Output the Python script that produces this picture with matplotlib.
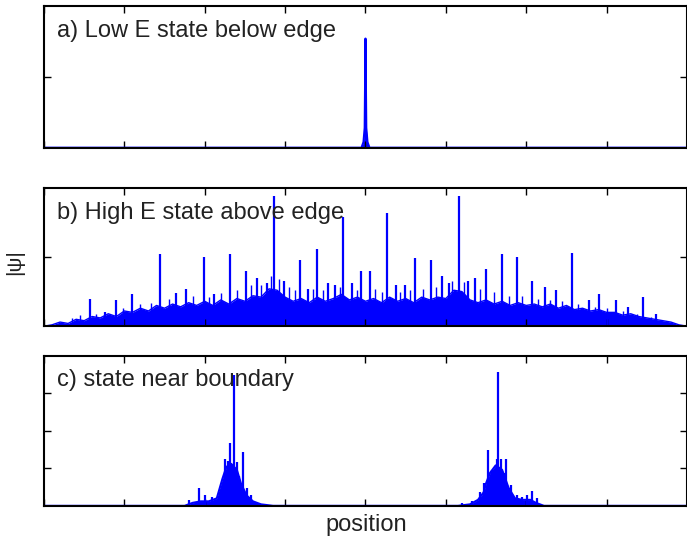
import matplotlib
matplotlib.use("Agg")
import matplotlib.pyplot as plt
import numpy as np

plt.rcParams['font.family'] = ['Liberation Sans', 'DejaVu Sans']

# x axis runs over 8 tick intervals, y over 0..1
n_div = 8

# a) one narrow peak in the middle
a_x = [0.0, 3.95, 3.975, 3.99, 4.0, 4.01, 4.025, 4.05, 8.0]
a_y = [0.0, 0.0, 0.04, 0.14, 0.77, 0.14, 0.04, 0.0, 0.0]

# b) dense background (upper edge) plus the sharp spikes
b_bg_x = list(np.round(np.arange(0, 8.01, 0.1), 2))
b_bg_y = [0.0, 0.01, 0.03, 0.02, 0.05, 0.04, 0.07, 0.06, 0.09, 0.07,
          0.11, 0.10, 0.13, 0.11, 0.15, 0.13, 0.16, 0.14, 0.17, 0.15,
          0.18, 0.15, 0.19, 0.16, 0.20, 0.18, 0.22, 0.21, 0.27, 0.26,
          0.21, 0.18, 0.20, 0.17, 0.21, 0.18, 0.20, 0.23, 0.19, 0.21,
          0.18, 0.20, 0.17, 0.21, 0.18, 0.20, 0.17, 0.21, 0.19, 0.21,
          0.20, 0.26, 0.25, 0.19, 0.17, 0.19, 0.16, 0.18, 0.15, 0.17,
          0.15, 0.16, 0.14, 0.16, 0.13, 0.15, 0.12, 0.13, 0.11, 0.12,
          0.10, 0.10, 0.08, 0.09, 0.07, 0.06, 0.05, 0.04, 0.03, 0.01,
          0.0]
b_spike_x = [0.568, 0.760, 0.896, 1.097, 1.440, 1.642, 1.767, 1.985, 2.121,
             2.311, 2.513, 2.649, 2.774, 2.856, 2.981, 3.182, 3.291, 3.400,
             3.536, 3.618, 3.726, 3.835, 3.944, 4.053, 4.271, 4.380, 4.489,
             4.614, 4.815, 4.952, 5.033, 5.158, 5.278, 5.360, 5.496, 5.697,
             5.888, 6.068, 6.231, 6.367, 6.574, 6.775, 6.911, 7.118, 7.265,
             7.456, 7.619]
b_spike_y = [0.20, 0.10, 0.19, 0.23, 0.52, 0.24, 0.27, 0.50, 0.23,
             0.52, 0.40, 0.35, 0.31, 0.94, 0.33, 0.48, 0.27, 0.56,
             0.31, 0.30, 0.79, 0.31, 0.40, 0.40, 0.82, 0.30, 0.30,
             0.49, 0.48, 0.36, 0.31, 0.94, 0.33, 0.35, 0.41, 0.52,
             0.50, 0.33, 0.28, 0.26, 0.53, 0.19, 0.23, 0.19, 0.14,
             0.21, 0.09]
# smaller ragged lines sitting on the background
b_small_x = [0.35, 0.45, 0.65, 0.98, 1.20, 1.33, 1.55, 1.85, 2.05, 2.20,
             2.40, 2.58, 2.70, 2.82, 2.92, 3.05, 3.12, 3.35, 3.47, 3.68,
             3.90, 4.12, 4.20, 4.43, 4.55, 4.72, 4.88, 5.08, 5.22, 5.42,
             5.60, 5.78, 5.95, 6.15, 6.30, 6.45, 6.65, 6.85, 7.00, 7.20,
             7.38, 7.55, 7.75]
b_small_y = [0.06, 0.08, 0.09, 0.13, 0.16, 0.17, 0.20, 0.22, 0.21, 0.24,
             0.26, 0.30, 0.30, 0.36, 0.34, 0.28, 0.26, 0.27, 0.26, 0.28,
             0.26, 0.27, 0.25, 0.25, 0.26, 0.27, 0.28, 0.33, 0.32, 0.27,
             0.25, 0.22, 0.22, 0.20, 0.19, 0.18, 0.16, 0.14, 0.13, 0.11,
             0.09, 0.07, 0.04]

# c) two localized clusters
c_bg_x = [0.0, 1.75, 1.85, 1.95, 2.05, 2.15, 2.22, 2.27, 2.33, 2.40, 2.45,
          2.52, 2.60, 2.70, 2.85, 5.15, 5.30, 5.40, 5.47, 5.50, 5.55, 5.62,
          5.70, 5.78, 5.86, 5.95, 6.05, 6.12, 6.22, 8.0]
c_bg_y = [0.0, 0.0, 0.02, 0.03, 0.03, 0.05, 0.18, 0.26, 0.28, 0.24, 0.15,
          0.07, 0.03, 0.01, 0.0, 0.0, 0.01, 0.04, 0.09, 0.15, 0.22, 0.27,
          0.24, 0.12, 0.05, 0.04, 0.04, 0.02, 0.0, 0.0]
c_spike_x = [1.81, 1.93, 2.00, 2.09, 2.19, 2.25, 2.29, 2.32, 2.36, 2.40, 2.43,
             2.47, 2.52, 2.58, 5.20, 5.32, 5.42, 5.48, 5.53, 5.58, 5.63, 5.65,
             5.69, 5.73, 5.75, 5.81, 5.88, 5.95, 6.01, 6.07, 6.14]
c_spike_y = [0.04, 0.12, 0.07, 0.06, 0.09, 0.31, 0.30, 0.42, 0.87, 0.29, 0.20,
             0.36, 0.12, 0.07, 0.02, 0.03, 0.09, 0.15, 0.37, 0.24, 0.31, 0.89,
             0.31, 0.22, 0.31, 0.14, 0.07, 0.06, 0.07, 0.10, 0.05]

labels = ['a) Low E state below edge', 'b) High E state above edge',
          'c) state near boundary']
yticks = [[0.5], [0.5], [0.25, 0.5, 0.75]]

blue = '#0000ff'
fig = plt.figure(figsize=(6.87, 5.41), dpi=100)

# axes boxes in figure fractions: left, bottom, width, height
boxes = [[0.064, 0.727, 0.936, 0.262],
         [0.064, 0.397, 0.936, 0.256],
         [0.064, 0.065, 0.936, 0.277]]
text_y = [0.82, 0.82, 0.84]

axes = [fig.add_axes(b) for b in boxes]

ax = axes[0]
ax.fill_between(a_x, a_y, 0, color=blue, lw=0)
ax.plot(a_x, a_y, color=blue, lw=1.5)

ax = axes[1]
ax.fill_between(b_bg_x, b_bg_y, 0, color=blue, lw=0)
ax.plot(b_bg_x, b_bg_y, color=blue, lw=1.0)
ax.vlines(b_small_x, 0, b_small_y, color=blue, lw=1.0)
ax.vlines(b_spike_x, 0, b_spike_y, color=blue, lw=1.6)

ax = axes[2]
ax.fill_between(c_bg_x, c_bg_y, 0, color=blue, lw=0)
ax.plot(c_bg_x, c_bg_y, color=blue, lw=1.5)
ax.vlines(c_spike_x, 0, c_spike_y, color=blue, lw=1.6)

for ax, lab, yt, ty in zip(axes, labels, yticks, text_y):
    ax.set_xlim(0, n_div)
    ax.set_ylim(0, 1)
    ax.set_xticks(range(n_div + 1))
    ax.set_yticks(yt)
    ax.tick_params(direction='in', length=5, width=1, top=True, right=True,
                   labelbottom=False, labelleft=False)
    for s in ax.spines.values():
        s.set_linewidth(1.5)
    ax.text(0.02, ty, lab, transform=ax.transAxes, va='center', ha='left',
            fontsize=17, color='#222222')

fig.text(0.022, 0.516, '|ψ|', rotation=90, va='center', ha='center',
         fontsize=15, color='#222222')
fig.text(0.533, 0.03, 'position', va='center', ha='center',
         fontsize=17, color='#222222')

fig.savefig('out.png', dpi=100)
